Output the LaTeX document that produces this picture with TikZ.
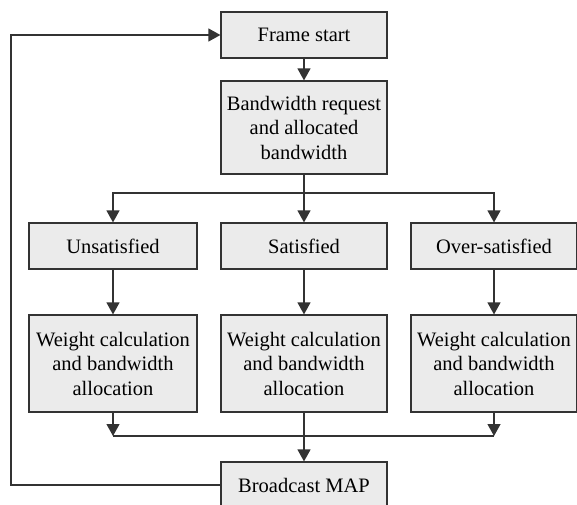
\documentclass[tikz,border=0pt]{standalone}
\usepackage{fontspec}
\setmainfont{Liberation Serif}
\usetikzlibrary{arrows.meta}
\definecolor{boxfill}{HTML}{EBEBEB}
\definecolor{linecol}{HTML}{333333}
\tikzset{
  box/.style={draw=linecol, line width=1.2pt, fill=boxfill, minimum width=166pt,
    align=center, inner sep=0pt, text=black,
    font=\rmfamily\fontsize{20.5}{24.5}\selectfont},
  conn/.style={draw=linecol, line width=1.2pt,
    -{Triangle[length=12pt,width=13pt]}},
  plain/.style={draw=linecol, line width=1.2pt}
}
\begin{document}
\begin{tikzpicture}[x=1pt,y=-1pt]
\useasboundingbox (0,0) rectangle (577,504);

% flow boxes
\node[box, minimum height=46pt] (fs) at (304,35) {Frame start};
\node[box, minimum height=93pt] (bw) at (304,127.5) {Bandwidth request\\and allocated\\bandwidth};
\node[box, minimum height=46pt, minimum width=168pt] (un) at (113,246) {Unsatisfied};
\node[box, minimum height=46pt] (sa) at (304,246) {Satisfied};
\node[box, minimum height=46pt] (ov) at (494,246) {Over-satisfied};
\node[box, minimum height=97pt, minimum width=168pt] (w1) at (113,363.5) {Weight calculation\\and bandwidth\\allocation};
\node[box, minimum height=97pt] (w2) at (304,363.5) {Weight calculation\\and bandwidth\\allocation};
\node[box, minimum height=97pt] (w3) at (494,363.5) {Weight calculation\\and bandwidth\\allocation};
\node[box, minimum height=46pt] (bm) at (304,485) {Broadcast MAP};

% branching and merging points
\coordinate (split) at (304,193);
\coordinate (merge) at (304,436);
\coordinate (fb) at (11,0);

% connectors
\draw[conn] (fs.south) -- (bw.north);
\draw[conn] (bw.south) -- (sa.north);
\draw[conn] (split) -| (un.north);
\draw[conn] (split) -| (ov.north);
\draw[conn] (un.south) -- (w1.north);
\draw[conn] (sa.south) -- (w2.north);
\draw[conn] (ov.south) -- (w3.north);
\draw[conn] (w1.south) -- (w1.south |- merge);
\draw[conn] (w3.south) -- (w3.south |- merge);
\draw[plain] (w1.south |- merge) -- (w3.south |- merge);
\draw[conn] (w2.south) -- (bm.north);
\draw[conn] (bm.west) -- (bm.west -| fb) |- (fs.west);
\end{tikzpicture}
\end{document}
